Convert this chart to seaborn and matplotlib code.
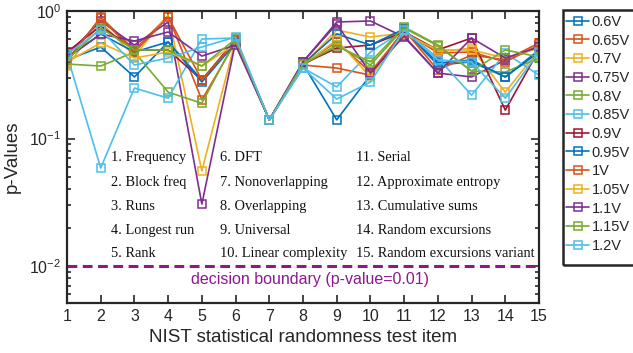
import numpy as np
import pandas as pd
import matplotlib
matplotlib.use('Agg')
import matplotlib.pyplot as plt
import seaborn as sns
from matplotlib.patches import Rectangle
from matplotlib.ticker import LogLocator, NullFormatter, FixedLocator

# ---- data ----
tests = list(range(1, 16))
voltages = ['0.6V', '0.65V', '0.7V', '0.75V', '0.8V', '0.85V', '0.9V',
            '0.95V', '1V', '1.05V', '1.1V', '1.15V', '1.2V']
v_060 = [0.413, 0.522, 0.304, 0.572, 0.288, 0.593, 0.140, 0.384, 0.140, 0.314, 0.709, 0.377, 0.399, 0.304, 0.495]
v_065 = [0.399, 0.897, 0.495, 0.913, 0.201, 0.572, 0.140, 0.377, 0.357, 0.314, 0.709, 0.344, 0.452, 0.413, 0.561]
v_070 = [0.370, 0.820, 0.443, 0.931, 0.0557, 0.593, 0.140, 0.377, 0.709, 0.625, 0.672, 0.477, 0.512, 0.231, 0.495]
v_075 = [0.452, 0.835, 0.541, 0.820, 0.0306, 0.572, 0.140, 0.399, 0.820, 0.835, 0.625, 0.326, 0.304, 0.413, 0.522]
v_080 = [0.384, 0.370, 0.477, 0.231, 0.189, 0.593, 0.140, 0.377, 0.541, 0.377, 0.736, 0.532, 0.338, 0.332, 0.428]
v_085 = [0.452, 0.0587, 0.249, 0.207, 0.603, 0.614, 0.140, 0.357, 0.254, 0.477, 0.709, 0.428, 0.219, 0.468, 0.314]
v_090 = [0.477, 0.763, 0.495, 0.495, 0.288, 0.593, 0.140, 0.384, 0.512, 0.541, 0.685, 0.495, 0.614, 0.167, 0.495]
v_095 = [0.428, 0.660, 0.477, 0.572, 0.277, 0.561, 0.140, 0.384, 0.660, 0.541, 0.723, 0.391, 0.413, 0.304, 0.477]
v_100 = [0.413, 0.882, 0.477, 0.897, 0.288, 0.582, 0.140, 0.384, 0.572, 0.332, 0.697, 0.468, 0.477, 0.399, 0.541]
v_105 = [0.399, 0.561, 0.428, 0.477, 0.370, 0.551, 0.140, 0.377, 0.593, 0.304, 0.660, 0.495, 0.495, 0.428, 0.512]
v_110 = [0.428, 0.660, 0.582, 0.685, 0.443, 0.541, 0.140, 0.399, 0.791, 0.326, 0.637, 0.326, 0.614, 0.428, 0.522]
v_115 = [0.413, 0.736, 0.495, 0.495, 0.370, 0.603, 0.140, 0.384, 0.532, 0.399, 0.749, 0.541, 0.338, 0.495, 0.436]
v_120 = [0.460, 0.709, 0.377, 0.428, 0.522, 0.625, 0.140, 0.357, 0.204, 0.277, 0.709, 0.413, 0.399, 0.207, 0.477]
series = [v_060, v_065, v_070, v_075, v_080, v_085, v_090,
          v_095, v_100, v_105, v_110, v_115, v_120]

colors = ['#0072BD', '#D95319', '#EDB120', '#7E2F8E', '#77AC30', '#4DBEEE', '#A2142F',
          '#0072BD', '#D95319', '#EDB120', '#7E2F8E', '#77AC30', '#4DBEEE']

test_names = ['1. Frequency', '2. Block freq', '3. Runs', '4. Longest run', '5. Rank',
              '6. DFT', '7. Nonoverlapping', '8. Overlapping', '9. Universal',
              '10. Linear complexity', '11. Serial', '12. Approximate entropy',
              '13. Cumulative sums', '14. Random excursions',
              '15. Random excursions variant']
threshold = 0.01
boundary_label = 'decision boundary (p-value=0.01)'

# ---- style ----
sns.set_style('ticks')
plt.rcParams['font.family'] = ['Liberation Sans', 'DejaVu Sans']
plt.rcParams['mathtext.fontset'] = 'custom'
plt.rcParams['mathtext.rm'] = 'Liberation Sans'
plt.rcParams['mathtext.it'] = 'Liberation Sans:italic'
plt.rcParams['mathtext.default'] = 'regular'

W, H = 633, 353
fig = plt.figure(figsize=(W / 100, H / 100), dpi=100)
ax = fig.add_axes([67 / W, 1 - 303 / H, 472 / W, 292 / H])

for lab, vals, c in zip(voltages, series, colors):
    df = pd.DataFrame({'test': tests, 'p': vals})
    sns.lineplot(data=df, x='test', y='p', ax=ax, color=c, marker='s',
                 markersize=5.3, markerfacecolor='none', markeredgecolor=c,
                 markeredgewidth=1.1, linewidth=1.2, label=lab, legend=False)

purple = '#8E178E'
ax.axhline(threshold, color=purple, lw=2.2, ls=(0, (3.2, 1.8)))
ax.text(0.515, 0.079, boundary_label, transform=ax.transAxes, ha='center',
        va='center', color=purple, fontsize=11.5)

# test name annotations
col_x = [0.0932, 0.3245, 0.6125]
row_y = [0.50, 0.414, 0.332, 0.25, 0.168]
for i, name in enumerate(test_names):
    ax.text(col_x[i // 5], row_y[i % 5], name, transform=ax.transAxes,
            ha='left', va='center', fontsize=10.4,
            family=['Liberation Serif', 'DejaVu Serif'], color='#111111')

ax.set_yscale('log')
ax.set_ylim(0.00513, 1.0)
ax.set_xlim(1, 15)
ax.set_xticks(tests)
ax.yaxis.set_major_locator(FixedLocator([0.01, 0.1, 1.0]))
ax.yaxis.set_minor_locator(LogLocator(base=10, subs=np.arange(2, 10)))
ax.yaxis.set_minor_formatter(NullFormatter())
ax.set_yticklabels(['$10^{-2}$', '$10^{-1}$', '$10^{0}$'])

ax.tick_params(axis='both', which='both', direction='in', top=True, right=True,
               colors='#262626', labelcolor='#262626', width=1.2)
ax.tick_params(axis='both', which='major', length=6, labelsize=11.5, pad=4)
ax.tick_params(axis='both', which='minor', length=3)
for s in ax.spines.values():
    s.set_linewidth(1.6)
    s.set_color('#262626')

ax.set_xlabel('NIST statistical randomness test item', fontsize=13.5, color='#262626')
ax.set_ylabel('p-Values', fontsize=13.5, color='#262626', labelpad=6)

handles, labels = ax.get_legend_handles_labels()
leg = fig.legend(handles, labels, loc='upper left',
                 bbox_to_anchor=(563 / W, 1 - 12 / H), frameon=False,
                 fontsize=10.5, handlelength=1.6, handletextpad=0.15,
                 labelspacing=0.32, borderaxespad=0, borderpad=0.2)
fig.patches.append(Rectangle((563 / W, 1 - 265 / H), 90 / W, 255 / H,
                             transform=fig.transFigure, fill=False,
                             lw=1.8, edgecolor='#262626'))

fig.savefig('out.png', dpi=100)
